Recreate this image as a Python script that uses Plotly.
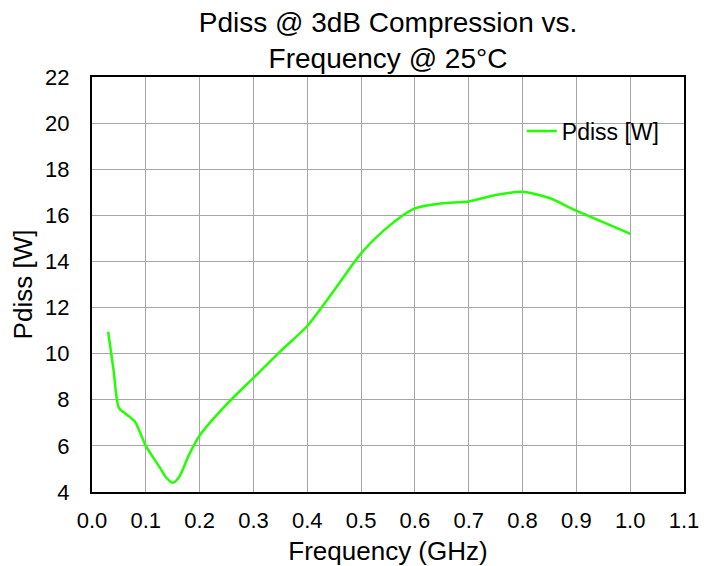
import plotly.graph_objects as go

freq_ghz = [0.03, 0.04, 0.05, 0.065, 0.08, 0.10, 0.125, 0.137, 0.15, 0.162, 0.18,
            0.20, 0.25, 0.30, 0.35, 0.40, 0.45, 0.50, 0.55, 0.60, 0.65, 0.70,
            0.75, 0.80, 0.85, 0.90, 1.00]
pdiss_w = [10.95, 9.3, 7.65, 7.35, 7.05, 6.0, 5.1, 4.65, 4.4, 4.65, 5.6,
           6.45, 7.8, 8.95, 10.1, 11.2, 12.75, 14.35, 15.5, 16.3, 16.52, 16.6,
           16.88, 17.02, 16.75, 16.2, 15.2]

x_ticks = [round(0.1 * i, 1) for i in range(12)]
y_ticks = list(range(4, 23, 2))

font = "Liberation Sans, Arial, sans-serif"

fig = go.Figure()
fig.add_trace(
    go.Scatter(
        x=freq_ghz,
        y=pdiss_w,
        mode="lines",
        name="Pdiss [W]",
        line=dict(color="#22ff00", width=2.5, shape="spline", smoothing=0.7),
    )
)

# white patch behind the legend, hiding the grid lines like the original
fig.add_shape(
    type="rect", xref="paper", yref="paper",
    x0=0.715, x1=0.997, y0=0.757, y1=0.997,
    fillcolor="white", line=dict(width=0), layer="between",
)

# page body adds an 8px margin, so the figure is 8px smaller each way
fig.update_layout(
    width=705,
    height=558,
    paper_bgcolor="white",
    plot_bgcolor="white",
    font=dict(family=font, size=22, color="black"),
    title=dict(
        text="Pdiss @ 3dB Compression vs.<br>Frequency @ 25°C",
        x=0.5, xref="paper", xanchor="center",
        y=0.957, yref="container", yanchor="middle",
        font=dict(size=28),
    ),
    margin=dict(l=84, r=29, t=69, b=74),
    showlegend=True,
    legend=dict(
        x=0.726, y=0.87, xanchor="left", yanchor="middle",
        bgcolor="rgba(0,0,0,0)", font=dict(size=23),
    ),
    xaxis=dict(
        title=dict(text="Frequency (GHz)", standoff=15),
        range=[0, 1.1], tickvals=x_ticks, ticktext=[f"{v:.1f}" for v in x_ticks],
        showgrid=True, gridcolor="#a6a6a6", gridwidth=1.3,
        showline=True, linecolor="black", linewidth=2, mirror=True,
        zeroline=False, ticks="", ticklabelstandoff=8, automargin=False,
    ),
    yaxis=dict(
        title=dict(text="Pdiss [W]", standoff=5),
        range=[4, 22], tickvals=y_ticks,
        showgrid=True, gridcolor="#a6a6a6", gridwidth=1.3,
        showline=True, linecolor="black", linewidth=2, mirror=True,
        zeroline=False, ticks="", ticklabelstandoff=16, automargin=False,
    ),
)

fig.write_html("out.html")
